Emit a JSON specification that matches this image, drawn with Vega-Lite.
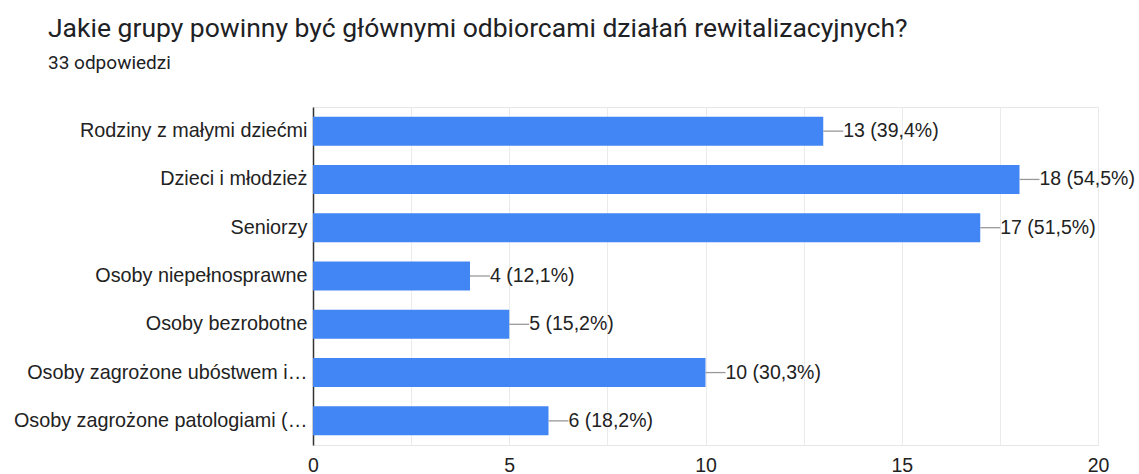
{
  "$schema": "https://vega.github.io/schema/vega-lite/v6.json",
  "autosize": "none",
  "width": 785,
  "height": 338,
  "padding": {"left": 313, "top": 107, "right": 41, "bottom": 29},
  "background": "white",
  "config": {
    "font": "Liberation Sans",
    "view": {"stroke": "#e6e6e6"}
  },
  "title": {
    "text": "Jakie grupy powinny być głównymi odbiorcami działań rewitalizacyjnych?",
    "subtitle": "33 odpowiedzi",
    "anchor": "start",
    "frame": "group",
    "dx": -265,
    "offset": 34,
    "font": "Roboto",
    "subtitleFont": "Roboto",
    "fontSize": 26.5,
    "fontWeight": "normal",
    "color": "#202124",
    "subtitleFontSize": 19,
    "subtitleColor": "#202124",
    "subtitlePadding": 12
  },
  "data": {
    "values": [
      {"group": "Rodziny z małymi dziećmi", "count": 13, "label": "13 (39,4%)"},
      {"group": "Dzieci i młodzież", "count": 18, "label": "18 (54,5%)"},
      {"group": "Seniorzy", "count": 17, "label": "17 (51,5%)"},
      {"group": "Osoby niepełnosprawne", "count": 4, "label": "4 (12,1%)"},
      {"group": "Osoby bezrobotne", "count": 5, "label": "5 (15,2%)"},
      {"group": "Osoby zagrożone ubóstwem i…", "count": 10, "label": "10 (30,3%)"},
      {"group": "Osoby zagrożone patologiami (…", "count": 6, "label": "6 (18,2%)"}
    ]
  },
  "encoding": {
    "y": {
      "field": "group",
      "type": "nominal",
      "sort": null,
      "scale": {"paddingInner": 0.4, "paddingOuter": 0.2},
      "axis": {
        "title": null,
        "ticks": false,
        "labelFontSize": 19.8,
        "labelColor": "#222222",
        "labelPadding": 6,
        "labelLimit": 400,
        "domainColor": "#333333",
        "domainWidth": 1.5
      }
    }
  },
  "layer": [
    {
      "mark": {"type": "bar", "color": "#4285F4"},
      "encoding": {
        "x": {
          "field": "count",
          "type": "quantitative",
          "scale": {"domain": [0, 20], "nice": false},
          "axis": {
            "title": null,
            "values": [0, 2.5, 5, 7.5, 10, 12.5, 15, 17.5, 20],
            "labelExpr": "datum.value % 5 === 0 ? datum.label : ''",
            "labelFlush": false,
            "domain": false,
            "ticks": false,
            "gridColor": "#ebebeb",
            "labelFontSize": 19.5,
            "labelColor": "#222222",
            "labelPadding": 11
          }
        }
      }
    },
    {
      "mark": {"type": "rule", "color": "#999999", "x2Offset": 20, "strokeWidth": 1.3},
      "encoding": {
        "x": {"field": "count", "type": "quantitative"},
        "x2": {"field": "count"}
      }
    },
    {
      "mark": {"type": "text", "align": "left", "baseline": "middle", "dx": 20, "fontSize": 19.5, "color": "#222222"},
      "encoding": {
        "x": {"field": "count", "type": "quantitative"},
        "text": {"field": "label"}
      }
    }
  ]
}
